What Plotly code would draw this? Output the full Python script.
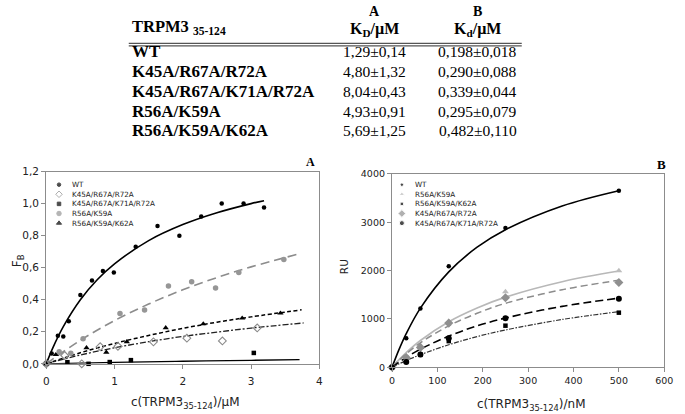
import plotly.graph_objects as go

W, H = 685, 414

# ---------------- table data ----------------
table_rows = ["WT", "K45A/R67A/R72A", "K45A/R67A/K71A/R72A", "R56A/K59A", "R56A/K59A/K62A"]
kD_A = ["1,29±0,14", "4,80±1,32", "8,04±0,43", "4,93±0,91", "5,69±1,25"]
kd_B = ["0,198±0,018", "0,290±0,088", "0,339±0,044", "0,295±0,079", "0,482±0,110"]

# ---------------- panel A data (fluorescence, µM) ----------------
A_wt_x = [0, 0.08, 0.17, 0.25, 0.33, 0.5, 0.67, 0.83, 0.99, 1.31, 1.63, 1.95, 2.27, 2.57, 2.89, 3.19]
A_wt_y = [0, 0.065, 0.175, 0.17, 0.265, 0.43, 0.52, 0.58, 0.57, 0.73, 0.86, 0.80, 0.92, 1.0, 1.0, 0.975]
A_k3_x = [0, 0.27, 0.52, 0.79, 1.05, 1.57, 2.06, 2.58, 3.09]
A_k3_y = [0, 0.052, 0.0, 0.107, 0.109, 0.137, 0.16, 0.143, 0.224]
A_k4_x = [0, 0.16, 0.31, 0.62, 0.93, 1.24, 3.04]
A_k4_y = [0, -0.008, 0.01, 0.0, 0.011, 0.023, 0.068]
A_r2_x = [0, 0.19, 0.36, 0.54, 1.08, 1.44, 1.79, 2.13, 2.48, 2.82, 3.48]
A_r2_y = [0, 0.076, 0.066, 0.157, 0.314, 0.336, 0.485, 0.513, 0.474, 0.57, 0.651]
A_r3_x = [0, 0.14, 0.59, 0.88, 1.18, 1.75, 2.30, 2.87, 3.43]
A_r3_y = [0, 0.057, 0.10, 0.072, 0.137, 0.225, 0.249, 0.285, 0.316]

# fitted curves, panel A
Afit_wt_x = [0, 0.1, 0.25, 0.5, 0.75, 1, 1.5, 2, 2.5, 3, 3.19]
Afit_wt_y = [0, 0.103, 0.232, 0.40, 0.526, 0.624, 0.769, 0.869, 0.943, 1.0, 1.018]
Afit_r2_x = [0, 0.5, 1, 1.5, 2, 2.5, 3, 3.71]
Afit_r2_y = [0, 0.147, 0.27, 0.373, 0.462, 0.538, 0.605, 0.687]
Afit_r3_x = [0, 0.5, 1, 1.5, 2, 2.5, 3, 3.74]
Afit_r3_y = [0, 0.069, 0.127, 0.177, 0.221, 0.26, 0.293, 0.337]
Afit_k3_x = [0, 0.5, 1, 1.5, 2, 2.5, 3, 3.77]
Afit_k3_y = [0, 0.055, 0.10, 0.138, 0.171, 0.198, 0.223, 0.255]
Afit_k4_x = [0, 1, 2, 3, 3.71]
Afit_k4_y = [0, 0.009, 0.016, 0.022, 0.026]

A_xticks = [0, 1, 2, 3, 4]
A_xticktext = ["0", "1", "2", "3", "4"]
A_yticks = [0, 0.2, 0.4, 0.6, 0.8, 1.0, 1.2]
A_yticktext = ["0,0", "0,2", "0,4", "0,6", "0,8", "1,0", "1,2"]

# ---------------- panel B data (SPR, nM) ----------------
B_x = [0, 31.25, 62.5, 125, 250, 500]
B_wt = [0, 600, 1216, 2090, 2883, 3655]
B_r2 = [0, 228, 430, 948, 1560, 1995]
B_r3 = [0, 130, 256, 540, 860, 1129]
B_k3 = [0, 200, 410, 913, 1437, 1754]
B_k4 = [0, 107, 262, 598, 1014, 1418]

Bfit_x = [0, 15, 31.25, 62.5, 125, 187.5, 250, 375, 500]
Bfit_wt = [0, 359, 696, 1224, 1974, 2484, 2847, 3339, 3655]
Bfit_r2 = [0, 153, 303, 553, 942, 1227, 1451, 1771, 1990]
Bfit_k3 = [0, 140, 277, 505, 857, 1117, 1323, 1604, 1800]
Bfit_k4 = [0, 102, 203, 373, 645, 855, 1018, 1260, 1430]
Bfit_r3 = [0, 68, 137, 259, 465, 634, 771, 988, 1150]

B_xticks = [0, 100, 200, 300, 400, 500, 600]
B_xticktext = ["0", "100", "200", "300", "400", "500", "600"]
B_yticks = [0, 1000, 2000, 3000, 4000]
B_yticktext = ["0", "1000", "2000", "3000", "4000"]

legendA = ["WT", "K45A/R67A/R72A", "K45A/R67A/K71A/R72A", "R56A/K59A", "R56A/K59A/K62A"]
legendB = ["WT", "R56A/K59A", "R56A/K59A/K62A", "K45A/R67A/R72A", "K45A/R67A/K71A/R72A"]


def px(x):
    return x / W


def py(y):
    return 1 - y / H


fig = go.Figure()

# ---- styles ----
A_styles = [
    dict(symbol="circle", size=4.5, color="black", line=dict(width=0)),
    dict(symbol="diamond-open", size=6, color="#8a8a8a", line=dict(width=1.1, color="#8a8a8a")),
    dict(symbol="square", size=4.5, color="black", line=dict(width=0)),
    dict(symbol="circle", size=5.5, color="#969696", line=dict(width=0)),
    dict(symbol="triangle-up", size=5.5, color="black", line=dict(width=0)),
]
B_styles = [
    dict(symbol="circle", size=4.5, color="black", line=dict(width=0)),
    dict(symbol="triangle-up", size=6, color="#bdbdbd", line=dict(width=0)),
    dict(symbol="square", size=4.5, color="black", line=dict(width=0)),
    dict(symbol="diamond", size=7, color="#8f8f8f", line=dict(width=0)),
    dict(symbol="circle", size=6, color="black", line=dict(width=0)),
]

# ---- panel A fits ----
fitsA = [
    (Afit_wt_x, Afit_wt_y, dict(color="black", width=1.6)),
    (Afit_r2_x, Afit_r2_y, dict(color="#8c8c8c", width=1.6, dash="9px,5px")),
    (Afit_r3_x, Afit_r3_y, dict(color="black", width=1.5, dash="4px,2.5px")),
    (Afit_k3_x, Afit_k3_y, dict(color="#222222", width=1.3, dash="6px,2px,2px,2px")),
    (Afit_k4_x, Afit_k4_y, dict(color="black", width=1.3)),
]
for fx, fy, ln in fitsA:
    fig.add_trace(go.Scatter(x=fx, y=fy, mode="lines", line=dict(shape="spline", **ln),
                             xaxis="x", yaxis="y", showlegend=False, hoverinfo="skip"))

ptsA = [(A_wt_x, A_wt_y), (A_k3_x, A_k3_y), (A_k4_x, A_k4_y), (A_r2_x, A_r2_y), (A_r3_x, A_r3_y)]
for (xx, yy), st, nm in zip(ptsA, A_styles, legendA):
    fig.add_trace(go.Scatter(x=xx, y=yy, mode="markers", marker=st, name=nm,
                             xaxis="x", yaxis="y", showlegend=False, cliponaxis=False))

# ---- panel B fits ----
fitsB = [
    (Bfit_wt, dict(color="black", width=1.6)),
    (Bfit_r2, dict(color="#b8b8b8", width=1.6)),
    (Bfit_k3, dict(color="#8c8c8c", width=1.5, dash="7px,4px")),
    (Bfit_k4, dict(color="black", width=1.6, dash="8px,4px")),
    (Bfit_r3, dict(color="#333333", width=1.2, dash="5px,1.5px,1.5px,1.5px")),
]
for fy, ln in fitsB:
    fig.add_trace(go.Scatter(x=Bfit_x, y=fy, mode="lines", line=dict(shape="spline", **ln),
                             xaxis="x2", yaxis="y2", showlegend=False, hoverinfo="skip"))

ptsB = [B_wt, B_r2, B_r3, B_k3, B_k4]
for yy, st, nm in zip(ptsB, B_styles, legendB):
    fig.add_trace(go.Scatter(x=B_x, y=yy, mode="markers", marker=st, name=nm,
                             xaxis="x2", yaxis="y2", showlegend=False, cliponaxis=False))

# ---- legend swatches (overlay pixel axis) ----
legA_y0, legB_y0, leg_dy = 184, 184, 9.9
fig.add_trace(go.Scatter(x=[57] * 5, y=[legA_y0 + i * leg_dy for i in range(5)], mode="markers",
                         marker=dict(symbol=[s["symbol"] for s in A_styles],
                                     size=[s["size"] - 1 for s in A_styles],
                                     color=[s["color"] for s in A_styles],
                                     line=dict(width=1, color=[s["color"] for s in A_styles])),
                         xaxis="x3", yaxis="y3", showlegend=False, hoverinfo="skip"))
fig.add_trace(go.Scatter(x=[406] * 5, y=[legB_y0 + i * leg_dy for i in range(5)], mode="markers",
                         marker=dict(symbol=[s["symbol"] for s in B_styles],
                                     size=[s["size"] - 1 for s in B_styles],
                                     color=[s["color"] for s in B_styles]),
                         xaxis="x3", yaxis="y3", showlegend=False, hoverinfo="skip"))

annotations = []
legfont = dict(family="DejaVu Sans", size=7.2, color="#222")
for i, t in enumerate(legendA):
    annotations.append(dict(x=px(68), y=py(legA_y0 + i * leg_dy), xref="paper", yref="paper",
                            text=t, showarrow=False, xanchor="left", yanchor="middle", font=legfont))
for i, t in enumerate(legendB):
    annotations.append(dict(x=px(417), y=py(legB_y0 + i * leg_dy), xref="paper", yref="paper",
                            text=t, showarrow=False, xanchor="left", yanchor="middle", font=legfont))

# ---- table ----
serif = "Liberation Serif"
tb_left = 129
colA, colB = 378, 483
row_y0, row_dy = 47, 20.4
annotations += [
    dict(x=px(colA), y=py(6), text="<b>A</b>", font=dict(family=serif, size=14, color="black")),
    dict(x=px(colB), y=py(6), text="<b>B</b>", font=dict(family=serif, size=14, color="black")),
    dict(x=px(colA), y=py(24), text="<b>K<sub>D</sub>/µM</b>", font=dict(family=serif, size=16, color="black")),
    dict(x=px(colB), y=py(24), text="<b>K<sub>d</sub>/µM</b>", font=dict(family=serif, size=16, color="black")),
    dict(x=px(tb_left), y=py(22), text="<b>TRPM3 <sub>35-124</sub></b>", xanchor="left",
         font=dict(family=serif, size=16.5, color="black")),
]
for i, (lab, a, b) in enumerate(zip(table_rows, kD_A, kd_B)):
    yy = py(row_y0 + i * row_dy)
    annotations.append(dict(x=px(tb_left), y=yy, text="<b>" + lab + "</b>", xanchor="left",
                            font=dict(family=serif, size=17, color="black")))
    annotations.append(dict(x=px(colA), y=yy, text=a, font=dict(family=serif, size=15.5, color="black")))
    annotations.append(dict(x=px(colB), y=yy, text=b, font=dict(family=serif, size=15.5, color="black")))

# panel letters, axis titles
annotations += [
    dict(x=px(313), y=py(161), text="<b>A</b>", font=dict(family=serif, size=12, color="black")),
    dict(x=px(670), y=py(163), text="<b>B</b>", font=dict(family=serif, size=13, color="black")),
    dict(x=px(186), y=py(409), text="c(TRPM3<sub>35-124</sub>)/µM",
         font=dict(family="DejaVu Sans", size=12, color="#222")),
    dict(x=px(538), y=py(411), text="c(TRPM3<sub>35-124</sub>)/nM",
         font=dict(family="DejaVu Sans", size=12, color="#222")),
    dict(x=px(16), y=py(262), text="F<sub>B</sub>", textangle=-90,
         font=dict(family="DejaVu Sans", size=12, color="#222")),
    dict(x=px(347), y=py(268), text="RU", textangle=-90,
         font=dict(family="DejaVu Sans", size=10.5, color="#222")),
]
for a in annotations:
    a.setdefault("xref", "paper")
    a.setdefault("yref", "paper")
    a.setdefault("showarrow", False)
    a.setdefault("xanchor", "center")
    a.setdefault("yanchor", "middle")

shapes = [
    dict(type="line", xref="paper", yref="paper", x0=px(128), x1=px(528), y0=py(38.5), y1=py(38.5),
         line=dict(color="#555", width=1.3)),
    dict(type="line", xref="paper", yref="paper", x0=px(128), x1=px(528), y0=py(41), y1=py(41),
         line=dict(color="#555", width=1.3)),
]

tickfontA = dict(family="DejaVu Sans", size=10.5, color="#222")
tickfontB = dict(family="DejaVu Sans", size=9.5, color="#222")
axis_common = dict(showgrid=False, zeroline=False, showline=True, linecolor="#8c8c8c", linewidth=1.3,
                   mirror=True, ticks="outside", ticklen=4, tickcolor="#8c8c8c", tickwidth=1)

fig.update_layout(
    width=W, height=H, margin=dict(l=0, r=0, t=0, b=0),
    paper_bgcolor="white", plot_bgcolor="rgba(0,0,0,0)", showlegend=False,
    xaxis=dict(domain=[px(44), px(322)], range=[0, 4], anchor="y", tickvals=A_xticks,
               ticktext=A_xticktext, tickfont=tickfontA, ticklabelstandoff=3, **axis_common),
    yaxis=dict(domain=[py(368.5), py(170.5)], range=[0, 1.2], anchor="x", tickvals=A_yticks,
               ticktext=A_yticktext, tickfont=tickfontA, **axis_common),
    xaxis2=dict(domain=[px(396), px(673)], range=[0, 600], anchor="y2", tickvals=B_xticks,
                ticktext=B_xticktext, tickfont=tickfontB, **axis_common),
    yaxis2=dict(domain=[py(372), py(173)], range=[0, 4000], anchor="x2", tickvals=B_yticks,
                ticktext=B_yticktext, tickfont=tickfontB, **axis_common),
    xaxis3=dict(domain=[0, 1], range=[0, W], visible=False, anchor="y3", fixedrange=True),
    yaxis3=dict(domain=[0, 1], range=[H, 0], visible=False, anchor="x3", fixedrange=True),
    annotations=annotations,
    shapes=shapes,
)

fig.write_html(
    "out.html",
    config={"displayModeBar": False},
    post_script="document.body.style.margin='0';document.body.style.padding='0';"
                "document.documentElement.style.overflow='hidden';",
)
